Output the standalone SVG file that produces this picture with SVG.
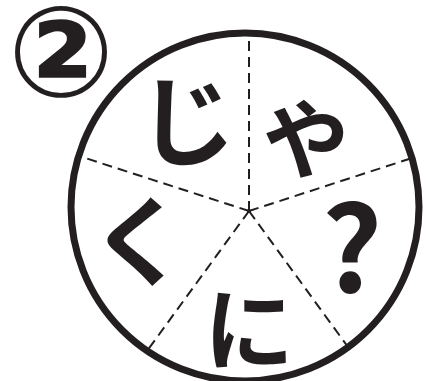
<svg xmlns="http://www.w3.org/2000/svg" width="426" height="381" viewBox="0 0 426 381">
<style>
.kana{font-family:"Noto Sans CJK JP","Noto Sans",sans-serif;font-weight:700;fill:#231f20;text-anchor:middle;dominant-baseline:central}
.dash{stroke:#231f20;stroke-width:2;stroke-dasharray:10 6;fill:none}
</style>
<rect width="426" height="381" fill="#fff"/>
<g id="badge">
<text x="61" y="52" font-family="DejaVu Sans" font-weight="bold" font-size="126" fill="#231f20" text-anchor="middle" dominant-baseline="central">②</text>
</g>
<g id="wheel">
<circle cx="245" cy="207" r="174" fill="none" stroke="#231f20" stroke-width="7"/>
</g>
<g id="connectors">
<line class="dash" x1="249" y1="211" x2="249" y2="33"/>
<line class="dash" x1="249" y1="211" x2="412" y2="158"/>
<line class="dash" x1="249" y1="211" x2="348" y2="347"/>
<line class="dash" x1="249" y1="211" x2="147" y2="351"/>
<line class="dash" x1="249" y1="211" x2="79" y2="156"/>
<circle cx="249" cy="211" r="2" fill="#231f20"/>
</g>
<g id="ji"><text class="kana" x="187" y="115" font-size="98">じ</text></g>
<g id="ya"><text class="kana" x="306" y="134" font-size="86">や</text></g>
<g id="q"><text class="kana" x="352" y="240" font-size="118">?</text></g>
<g id="ni"><text class="kana" x="249" y="324" font-size="90">に</text></g>
<g id="ku"><text class="kana" x="139" y="235" font-size="98">く</text></g>
</svg>
